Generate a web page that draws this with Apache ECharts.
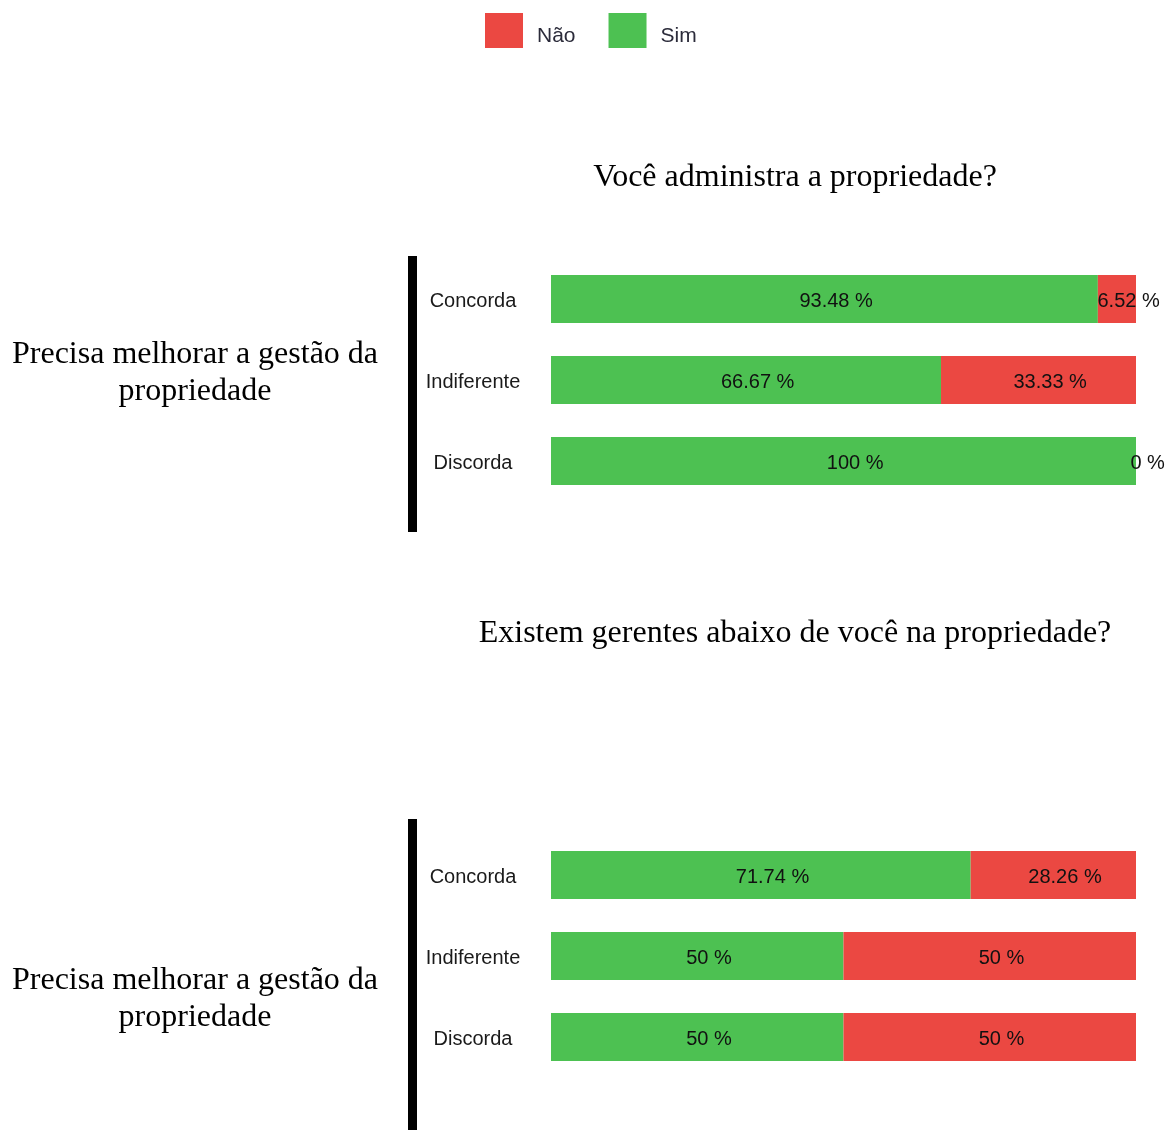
<!DOCTYPE html>
<html>
<head>
<meta charset="utf-8">
<script src="https://cdn.jsdelivr.net/npm/echarts@6/dist/echarts.min.js"></script>
<style>html,body{margin:0;padding:0;background:#fff}#c{width:1168px;height:1130px}</style>
</head>
<body>
<div id="c"></div>
<script>
const categories = ['Concorda', 'Indiferente', 'Discorda'];
const sim1 = [93.48, 66.67, 100];
const nao1 = [6.52, 33.33, 0];
const sim2 = [71.74, 50, 50];
const nao2 = [28.26, 50, 50];
const titles = ['Você administra a propriedade?', 'Existem gerentes abaixo de você na propriedade?'];
const sideLabel = 'Precisa melhorar a gestão da\npropriedade';

const GREEN = '#4DC152';
const RED = '#EB4842';
const SERIF = '"Liberation Serif", "Times New Roman", serif';
const SANS = '"Liberation Sans", Arial, sans-serif';

const chart = echarts.init(document.getElementById('c'), null, {renderer: 'canvas'});

const labelCfg = {
  show: true,
  position: 'inside',
  offset: [0, 2],
  color: '#111',
  fontSize: 20,
  fontFamily: SANS,
  formatter: p => '{h| %}' + p.value + ' %',
  rich: { h: { color: 'transparent', fontSize: 20, fontFamily: SANS } }
};

function barSeries(name, data, idx, stack, color) {
  return {
    name, type: 'bar', stack, data,
    xAxisIndex: idx, yAxisIndex: idx,
    barWidth: 48,
    itemStyle: { color },
    label: labelCfg,
    emphasis: { disabled: true },
    animation: false
  };
}

const grids = [
  { left: 551, width: 585, top: 258.5, height: 243 },
  { left: 551, width: 585, top: 834.5, height: 243 }
];

chart.setOption({
  animation: false,
  legend: {
    data: ['Não', 'Sim'],
    left: 485, top: 13, padding: 0,
    icon: 'rect', itemWidth: 38, itemHeight: 35, itemGap: 33,
    formatter: n => '{t|' + n + '}',
    textStyle: {
      rich: { t: { fontSize: 21, fontFamily: SANS, color: '#2b2b3a', padding: [12, 0, 0, 9] } }
    }
  },
  title: [
    { text: titles[0], left: 795, top: 162, textAlign: 'center', padding: 0,
      textStyle: { fontFamily: SERIF, fontSize: 32, fontWeight: 'normal', color: '#000' } },
    { text: titles[1], left: 795, top: 618, textAlign: 'center', padding: 0,
      textStyle: { fontFamily: SERIF, fontSize: 32, fontWeight: 'normal', color: '#000' } }
  ],
  grid: grids,
  xAxis: grids.map((g, i) => ({ type: 'value', gridIndex: i, min: 0, max: 100, show: false })),
  yAxis: grids.map((g, i) => ({
    type: 'category', gridIndex: i, data: categories, inverse: true,
    axisLine: { show: false }, axisTick: { show: false }, splitLine: { show: false },
    axisLabel: { align: 'center', margin: 78,
      formatter: v => '{c|' + v + '}',
      rich: { c: { fontSize: 20, fontFamily: SANS, color: '#1a1a1a', padding: [4, 0, 0, 0] } } }
  })),
  series: [
    barSeries('Sim', sim1, 0, 'a', GREEN),
    barSeries('Não', nao1, 0, 'a', RED),
    barSeries('Sim', sim2, 1, 'b', GREEN),
    barSeries('Não', nao2, 1, 'b', RED)
  ],
  graphic: [
    { type: 'rect', shape: { x: 408, y: 256, width: 9, height: 276 }, style: { fill: '#000' } },
    { type: 'rect', shape: { x: 408, y: 819, width: 9, height: 320 }, style: { fill: '#000' } },
    { type: 'text', x: 195, y: 373, style: { text: sideLabel, font: '32px ' + SERIF, fill: '#000',
      textAlign: 'center', textVerticalAlign: 'middle', lineHeight: 37 } },
    { type: 'text', x: 195, y: 999.5, style: { text: sideLabel, font: '32px ' + SERIF, fill: '#000',
      textAlign: 'center', textVerticalAlign: 'middle', lineHeight: 37 } }
  ]
});
</script>
</body>
</html>
